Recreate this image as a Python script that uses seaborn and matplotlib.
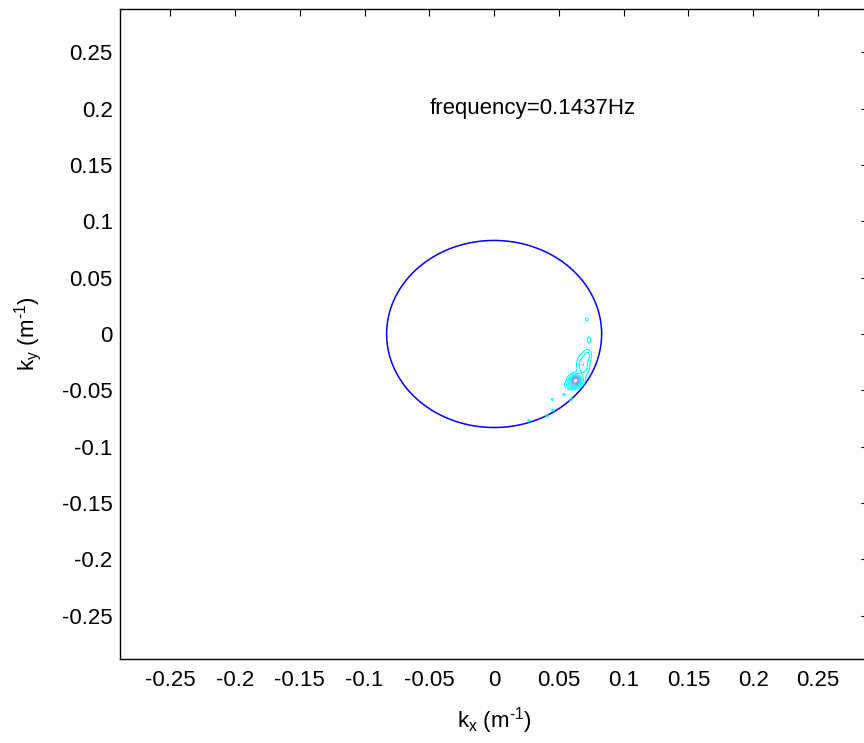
import numpy as np
import pandas as pd
import matplotlib
matplotlib.use("Agg")
import matplotlib.pyplot as plt
import seaborn as sns

# ---------------- data ----------------
frequency_hz = 0.1437
k_dispersion = 0.083          # radius of dispersion circle (1/m)

x_ticks = [-0.25, -0.2, -0.15, -0.1, -0.05, 0, 0.05, 0.1, 0.15, 0.2, 0.25]
x_tick_labels = ["-0.25", "-0.2", "-0.15", "-0.1", "-0.05", "0", "0.05", "0.1", "0.15", "0.2", "0.25"]
y_ticks = x_ticks
y_tick_labels = x_tick_labels
k_limit = 0.2886

# spectral blobs (centres, amplitudes, widths)
blob_kx  = [0.0631, 0.0598, 0.0688, 0.0722, 0.0716, 0.0732, 0.0450, 0.0540, 0.0593, 0.0454, 0.0410, 0.0270]
blob_ky  = [-0.0410, -0.0455, -0.0275, -0.0185, 0.0130, -0.0053, -0.0580, -0.0536, -0.0580, -0.0676, -0.0726, -0.0770]
blob_amp = [1.00, 0.35, 0.36, 0.22, 0.16, 0.18, 0.15, 0.15, 0.16, 0.15, 0.16, 0.15]
blob_sx  = [0.0032, 0.0033, 0.0032, 0.0022, 0.0013, 0.0012, 0.0010, 0.0010, 0.0011, 0.0010, 0.0012, 0.0011]
blob_sy  = [0.0032, 0.0025, 0.0060, 0.0035, 0.0012, 0.0026, 0.0010, 0.0010, 0.0011, 0.0010, 0.0010, 0.0010]
contour_levels = [0.10, 0.22, 0.36, 0.50, 0.64, 0.78, 0.90]
contour_colors = ["#00ffff", "#00ffff", "#00ffff", "#20e0ff", "#40c8ff", "#7090ff", "#9080ff"]

# ---------------- styling ----------------
sns.set_theme(style="white")
plt.rcParams["font.family"] = ["Liberation Sans", "DejaVu Sans"]
plt.rcParams["axes.unicode_minus"] = False
plt.rcParams["mathtext.default"] = "regular"

FS = 16

fig = plt.figure(figsize=(8.64, 7.43), dpi=100)
ax = fig.add_axes([0.1392, 0.1127, 0.8654, 0.8756])
ax.set_facecolor("white")

# dispersion circle
theta = np.linspace(0, 2 * np.pi, 721)
circle = pd.DataFrame({"kx": k_dispersion * np.cos(theta), "ky": k_dispersion * np.sin(theta)})
sns.lineplot(data=circle, x="kx", y="ky", sort=False, estimator=None,
             color=(0, 0, 1), linewidth=1.1, ax=ax)

# directional spectrum contours
kgrid = np.linspace(-k_limit, k_limit, 1201)
KX, KY = np.meshgrid(kgrid, kgrid)
S = np.zeros_like(KX)
for cx, cy, a, sx, sy in zip(blob_kx, blob_ky, blob_amp, blob_sx, blob_sy):
    S += a * np.exp(-0.5 * (((KX - cx) / sx) ** 2 + ((KY - cy) / sy) ** 2))
ax.contour(KX, KY, S, levels=contour_levels, colors=contour_colors, linewidths=0.8)

ax.text(-0.05, 0.2, f"frequency={frequency_hz}Hz", fontsize=FS, ha="left", va="center", color="black")

ax.set_xlim(-k_limit, k_limit)
ax.set_ylim(-k_limit, k_limit)
ax.set_xticks(x_ticks)
ax.set_xticklabels(x_tick_labels)
ax.set_yticks(y_ticks)
ax.set_yticklabels(y_tick_labels)
ax.tick_params(axis="both", direction="in", length=4.7, width=0.8, color="black",
               top=True, right=True, labelsize=FS, labelcolor="black")
ax.tick_params(axis="x", pad=8)
ax.tick_params(axis="y", pad=5.5)
for sp in ax.spines.values():
    sp.set_visible(True)
    sp.set_color("black")
    sp.set_linewidth(1.0)

ax.set_xlabel("k$_{x}$ (m$^{\u2010 1}$)", fontsize=FS, color="black", labelpad=10)
ax.set_ylabel("k$_{y}$ (m$^{\u2010 1}$)", fontsize=FS, color="black", labelpad=13)

fig.savefig("out.png", dpi=100)
